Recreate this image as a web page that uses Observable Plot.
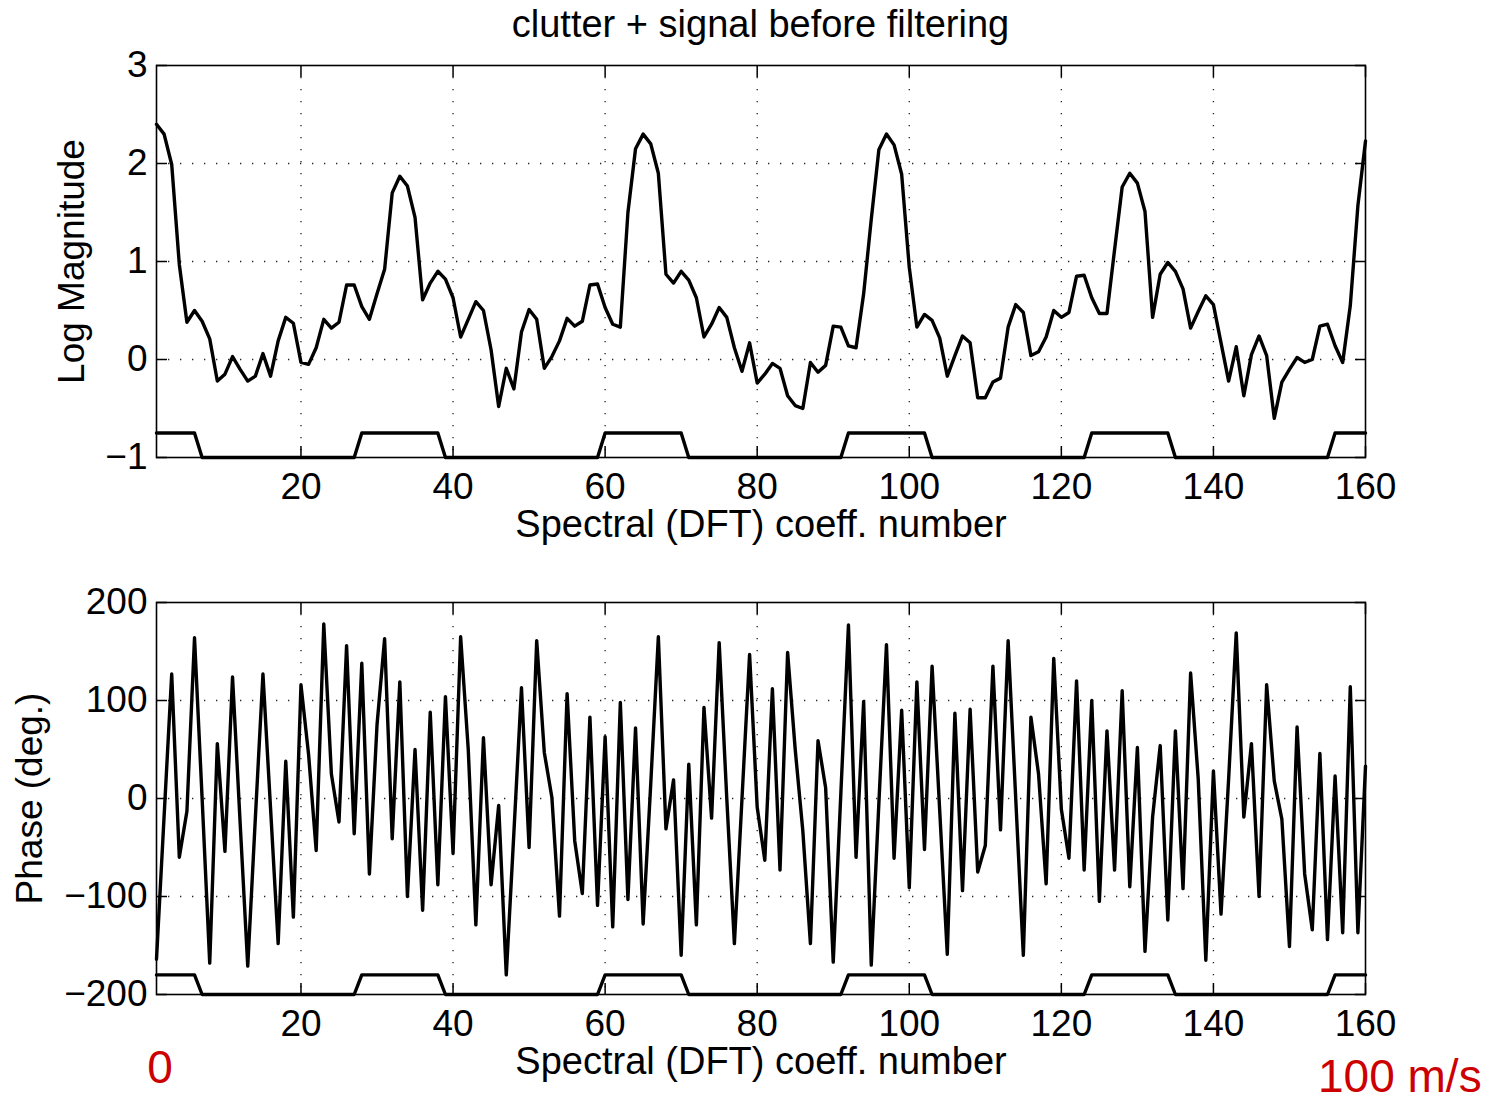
<!DOCTYPE html>
<html><head><meta charset="utf-8">
<script src="https://cdn.jsdelivr.net/npm/d3@7"></script>
<script src="https://cdn.jsdelivr.net/npm/@observablehq/plot@0.6"></script>
<style>
body{margin:0;background:#fff;}
#page{position:relative;width:1495px;height:1103px;font-family:"Liberation Sans",Arial,Helvetica,sans-serif;overflow:hidden;background:#fff;}
.abs{position:absolute;}
#title{left:156px;width:1209px;top:5px;text-align:center;font-size:38px;line-height:38px;color:#000;white-space:nowrap;}
#p1{left:0;top:48px;}
#p2{left:0;top:586px;}
.red{color:#cc0000;font-size:46px;line-height:40px;white-space:nowrap;}
#r0{left:130px;width:60px;text-align:center;top:1047px;}
#r1{left:1318px;top:1056px;}
</style></head><body>
<div id="page">
<div id="title" class="abs">clutter + signal before filtering</div>
<div id="p1" class="abs"></div>
<div id="p2" class="abs"></div>
<div id="r0" class="abs red">0</div>
<div id="r1" class="abs red">100 m/s</div>
</div>
<script>
// DFT coefficient numbers
const coeff = d3.range(1, 161);

// Log magnitude of each coefficient
const logMagnitude = [
  2.40, 2.30, 1.99, 0.97, 0.38, 0.50, 0.39, 0.21, -0.22, -0.15,
  0.03, -0.10, -0.22, -0.17, 0.06, -0.17, 0.19, 0.43, 0.37, -0.03,
  -0.05, 0.12, 0.41, 0.32, 0.38, 0.76, 0.76, 0.54, 0.41, 0.67,
  0.92, 1.70, 1.87, 1.77, 1.45, 0.61, 0.78, 0.90, 0.82, 0.63,
  0.23, 0.41, 0.59, 0.50, 0.10, -0.48, -0.09, -0.30, 0.28, 0.51,
  0.41, -0.09, 0.03, 0.19, 0.42, 0.34, 0.39, 0.76, 0.77, 0.53,
  0.36, 0.33, 1.50, 2.15, 2.30, 2.20, 1.90, 0.87, 0.78, 0.90,
  0.81, 0.63, 0.23, 0.36, 0.53, 0.43, 0.12, -0.12, 0.17, -0.24,
  -0.15, -0.04, -0.09, -0.37, -0.47, -0.50, -0.03, -0.13, -0.06, 0.34,
  0.33, 0.14, 0.12, 0.67, 1.43, 2.14, 2.30, 2.19, 1.89, 0.94,
  0.33, 0.46, 0.40, 0.22, -0.17, 0.04, 0.24, 0.17, -0.39, -0.39,
  -0.23, -0.19, 0.33, 0.56, 0.48, 0.04, 0.08, 0.23, 0.50, 0.43,
  0.48, 0.85, 0.86, 0.63, 0.47, 0.47, 1.12, 1.76, 1.90, 1.80,
  1.51, 0.43, 0.87, 0.99, 0.90, 0.72, 0.32, 0.49, 0.65, 0.56,
  0.17, -0.22, 0.13, -0.37, 0.05, 0.24, 0.04, -0.60, -0.23, -0.10,
  0.02, -0.03, 0.00, 0.34, 0.36, 0.14, -0.03, 0.55, 1.57, 2.23
];

// Phase (degrees) of each coefficient
const phaseDeg = [
  -164, -18, 127, -60, -13, 164, 0, -168, 56, -54,
  124, -25, -171, -20, 127, -10, -148, 38, -121, 116,
  45, -53, 178, 25, -24, 156, -36, 138, -77, 75,
  163, -41, 119, -100, 50, -114, 88, -88, 104, -56,
  165, 50, -129, 62, -88, -7, -180, -35, 113, -50,
  161, 47, 1, -120, 107, -43, -97, 83, -109, 63,
  -131, 98, -103, 72, -128, 15, 165, -31, 19, -160,
  35, -129, 93, -20, 159, 0, -148, 0, 147, -9,
  -63, 112, -73, 149, 50, -33, -148, 59, 11, -167,
  5, 177, -60, 99, -170, -5, 157, -61, 90, -91,
  119, -52, 135, -12, -159, 87, -94, 91, -75, -48,
  135, -32, 161, 0, -160, 83, 25, -87, 143, -11,
  -61, 120, -73, 100, -105, 69, -73, 110, -90, 52,
  -156, -19, 54, -124, 69, -92, 128, 20, -165, 28,
  -118, 20, 169, -19, 56, -100, 116, 18, -21, -151,
  73, -77, -134, 46, -144, 23, -137, 114, -137, 33
];

// Clutter filter pass mask (1 = in band)
const maskFlags = [
  1,1,1,1,1,1,0,0,0,0,0,0,0,0,0,0,0,0,0,0,
  0,0,0,0,0,0,0,1,1,1,1,1,1,1,1,1,1,1,0,0,
  0,0,0,0,0,0,0,0,0,0,0,0,0,0,0,0,0,0,0,1,
  1,1,1,1,1,1,1,1,1,1,0,0,0,0,0,0,0,0,0,0,
  0,0,0,0,0,0,0,0,0,0,0,1,1,1,1,1,1,1,1,1,
  1,1,0,0,0,0,0,0,0,0,0,0,0,0,0,0,0,0,0,0,
  0,0,0,1,1,1,1,1,1,1,1,1,1,1,0,0,0,0,0,0,
  0,0,0,0,0,0,0,0,0,0,0,0,0,0,0,1,1,1,1,1
];
const maskLevelsMag = [-1, -0.75];
const maskLevelsPhase = [-200, -180];

const xTicks = [20, 40, 60, 80, 100, 120, 140, 160];
const xGrid = [20, 40, 60, 80, 100, 120, 140];
const magTicks = [-1, 0, 1, 2, 3];
const magGrid = [0, 1, 2];
const phaseTicks = [-200, -100, 0, 100, 200];
const phaseGrid = [-100, 0, 100];
const xLabel = "Spectral (DFT) coeff. number";
const magLabel = "Log Magnitude";
const phaseLabel = "Phase (deg.)";

const FONT = '"Liberation Sans", Arial, Helvetica, sans-serif';
const fmt = d3.format("d");

function panel({values, levels, yDomain, yTicks, yGrid, yLabel, yLabelDx, marginTop, marginBottom}) {
  const series = coeff.map((k, i) => ({k, v: values[i]}));
  const mask = coeff.map((k, i) => ({k, v: levels[maskFlags[i]]}));
  const gridStyle = {stroke: "#222", strokeWidth: 1.3, strokeDasharray: "1.3,10.7"};
  return Plot.plot({
    width: 1495, height: 500,
    marginLeft: 156, marginRight: 130, marginTop, marginBottom,
    x: {domain: [1, 160], label: null},
    y: {domain: yDomain, label: null},
    style: {fontFamily: FONT, fontSize: "37px", background: "transparent", color: "#000", overflow: "visible"},
    marks: [
      Plot.ruleX(xGrid, gridStyle),
      Plot.ruleY(yGrid, gridStyle),
      Plot.frame({stroke: "#000", strokeWidth: 1.6}),
      Plot.axisX({ticks: xTicks, tickSize: -11, fill: "none", label: null, strokeWidth: 1.5}),
      Plot.axisX({anchor: "top", ticks: xTicks, tickSize: -11, fill: "none", label: null, strokeWidth: 1.5}),
      Plot.axisY({ticks: yTicks, tickSize: -11, fill: "none", label: null, strokeWidth: 1.5}),
      Plot.axisY({anchor: "right", ticks: yTicks, tickSize: -11, fill: "none", label: null, strokeWidth: 1.5}),
      Plot.axisX({ticks: xTicks, tickSize: 0, tickPadding: 15, tickFormat: fmt, label: null, fontSize: 37}),
      Plot.axisY({ticks: yTicks, tickSize: 0, tickPadding: 9, tickFormat: fmt, label: null, fontSize: 37}),
      Plot.line(mask, {x: "k", y: "v", stroke: "#000", strokeWidth: 3.4}),
      Plot.line(series, {x: "k", y: "v", stroke: "#000", strokeWidth: 3.4}),
      Plot.text([xLabel], {text: d => d, frameAnchor: "bottom", lineAnchor: "bottom", textAnchor: "middle", dy: 79, fontSize: 38, fill: "#000"}),
      Plot.text([yLabel], {text: d => d, frameAnchor: "left", lineAnchor: "bottom", textAnchor: "middle", rotate: -90, dx: yLabelDx, fontSize: 37, fill: "#000"})
    ]
  });
}

document.getElementById("p1").appendChild(panel({
  values: logMagnitude, levels: maskLevelsMag, yDomain: [-1, 3], yTicks: magTicks, yGrid: magGrid,
  yLabel: magLabel, yLabelDx: -73, marginTop: 17, marginBottom: 91
}));
document.getElementById("p2").appendChild(panel({
  values: phaseDeg, levels: maskLevelsPhase, yDomain: [-200, 200], yTicks: phaseTicks, yGrid: phaseGrid,
  yLabel: phaseLabel, yLabelDx: -115, marginTop: 16, marginBottom: 92
}));
</script>
</body></html>
